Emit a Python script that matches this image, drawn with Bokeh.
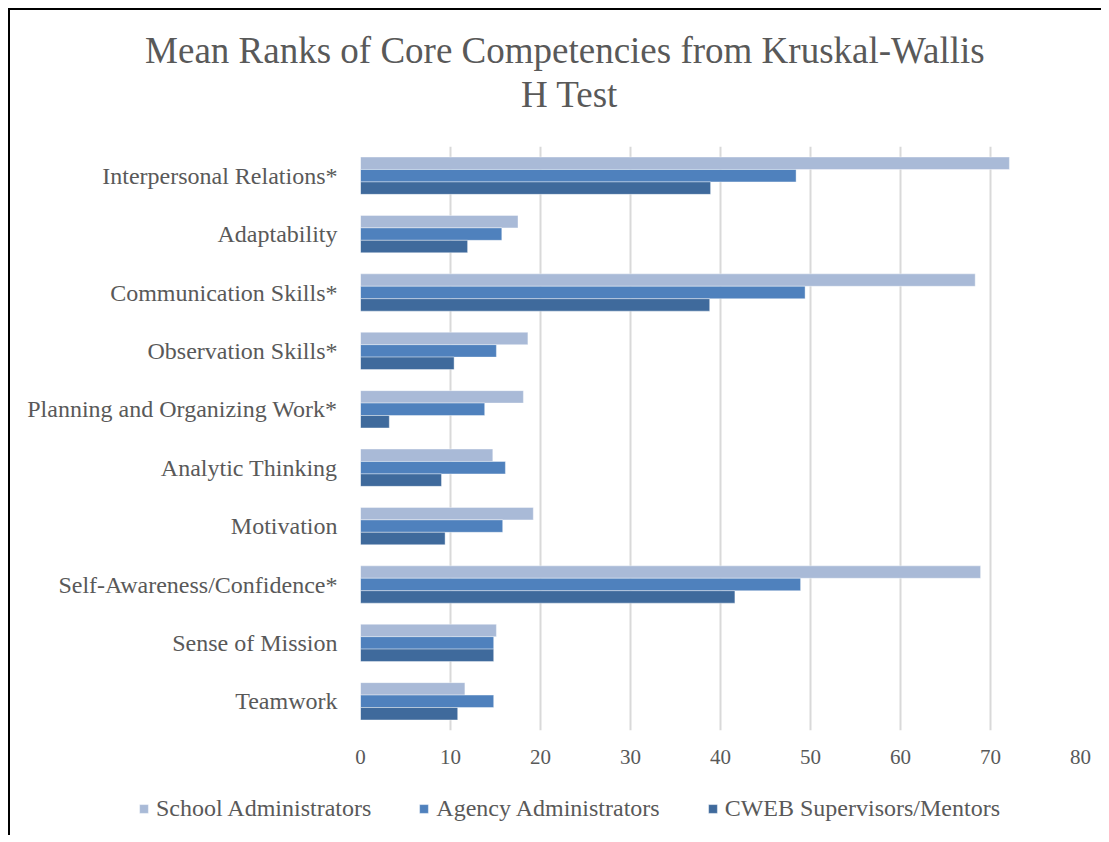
from bokeh.plotting import figure
from bokeh.layouts import column
from bokeh.models import (FactorRange, Range1d, Legend, LegendItem, Label, FixedTicker,
                          ColumnDataSource)
from bokeh.transform import dodge
from bokeh.embed import file_html
from bokeh.resources import INLINE

categories = ["Interpersonal Relations*", "Adaptability", "Communication Skills*",
              "Observation Skills*", "Planning and Organizing Work*", "Analytic Thinking",
              "Motivation", "Self-Awareness/Confidence*", "Sense of Mission", "Teamwork"]
school = [72.1, 17.5, 68.3, 18.6, 18.1, 14.7, 19.2, 68.9, 15.1, 11.6]
agency = [48.4, 15.7, 49.4, 15.1, 13.8, 16.1, 15.8, 48.9, 14.8, 14.8]
cweb = [38.9, 11.9, 38.8, 10.4, 3.2, 9.0, 9.4, 41.6, 14.8, 10.8]
series_names = ["School Administrators", "Agency Administrators", "CWEB Supervisors/Mentors"]
series_keys = ["school", "agency", "cweb"]
series_colors = ["#A9BAD7", "#4F81BD", "#3F6A9C"]
x_ticks = [0, 10, 20, 30, 40, 50, 60, 70, 80]
title_lines = ["Mean Ranks of Core Competencies  from Kruskal-Wallis", "H Test"]

FONT = "Liberation Serif"
GREY = "#595959"
W = 1091
BAR_STYLE = dict(line_color="white", line_width=0.8, line_alpha=0.5)


def bare(fig):
    fig.outline_line_color = None
    fig.background_fill_color = "white"
    fig.border_fill_color = "white"
    if "frame_align" in fig.properties():
        fig.frame_align = False
    return fig


source = ColumnDataSource(dict(cat=categories, school=school, agency=agency, cweb=cweb))

# ---- header with the two-line title
HH = 136
header = bare(figure(width=W, height=HH, x_range=Range1d(0, W), y_range=Range1d(0, HH),
                     output_backend="svg", toolbar_location=None, min_border=0,
                     x_axis_location=None, y_axis_location=None))
header.grid.visible = False
for txt, yy in zip(title_lines, [HH - 40, HH - 84]):
    header.add_layout(Label(x=559, y=yy, text=txt, text_align="center", text_baseline="middle",
                            text_font=FONT, text_font_size="37px", text_color=GREY))

# ---- main chart
p = figure(frame_width=720, frame_height=584, output_backend="svg", toolbar_location=None,
           y_range=FactorRange(factors=list(reversed(categories)), range_padding=0),
           x_range=Range1d(0, 80),
           min_border_left=350, min_border_right=21, min_border_top=0, min_border_bottom=50)
p.outline_line_color = None
p.background_fill_color = "white"
p.border_fill_color = "white"

bh = 0.213
offsets = [bh, 0, -bh]
for col, off, color in zip(series_keys, offsets, series_colors):
    p.hbar(y=dodge("cat", off, range=p.y_range), right=col, left=0, height=bh,
           source=source, fill_color=color, **BAR_STYLE)

p.xaxis.ticker = FixedTicker(ticks=x_ticks)
p.xaxis.axis_line_color = None
p.xaxis.major_tick_line_color = None
p.xaxis.minor_tick_line_color = None
p.xaxis.major_label_standoff = 13
p.xaxis.major_label_text_font = FONT
p.xaxis.major_label_text_font_size = "21px"
p.xaxis.major_label_text_color = GREY

p.yaxis.axis_line_color = None
p.yaxis.major_tick_line_color = None
p.yaxis.minor_tick_line_color = None
p.yaxis.major_label_standoff = 17
p.yaxis.major_label_text_font = FONT
p.yaxis.major_label_text_font_size = "24px"
p.yaxis.major_label_text_color = GREY

p.ygrid.grid_line_color = None
p.xgrid.grid_line_color = "#D9D9D9"
p.xgrid.grid_line_width = 2

# ---- legend strip below (hidden series renderers only supply the legend swatches)
LH = 55
lf = bare(figure(width=W, height=LH, x_range=Range1d(0, 80),
                 y_range=FactorRange(factors=list(reversed(categories)), range_padding=0),
                 output_backend="svg", toolbar_location=None, min_border=0,
                 x_axis_location=None, y_axis_location=None))
lf.grid.visible = False
leg_renderers = []
for col, c in zip(series_keys, series_colors):
    r = lf.hbar(y="cat", right=col, left=0, height=bh, source=source, fill_color=c, **BAR_STYLE)
    r.visible = False
    leg_renderers.append(r)
legend = Legend(items=[LegendItem(label=n, renderers=[r]) for n, r in zip(series_names, leg_renderers)],
                location=(128, 13), orientation="horizontal", click_policy="none",
                glyph_width=11, glyph_height=11, label_height=24, label_standoff=7, spacing=47,
                padding=0, margin=0, border_line_color=None, background_fill_alpha=0,
                label_text_font=FONT, label_text_font_size="24px", label_text_color=GREY)
lf.add_layout(legend, "center")

layout = column(header, p, lf, spacing=0,
                styles={"margin-left": "8px", "margin-top": "8px",
                        "border-left": "2px solid black", "border-top": "2px solid black"})

open("out.html", "w").write(file_html(layout, INLINE))
